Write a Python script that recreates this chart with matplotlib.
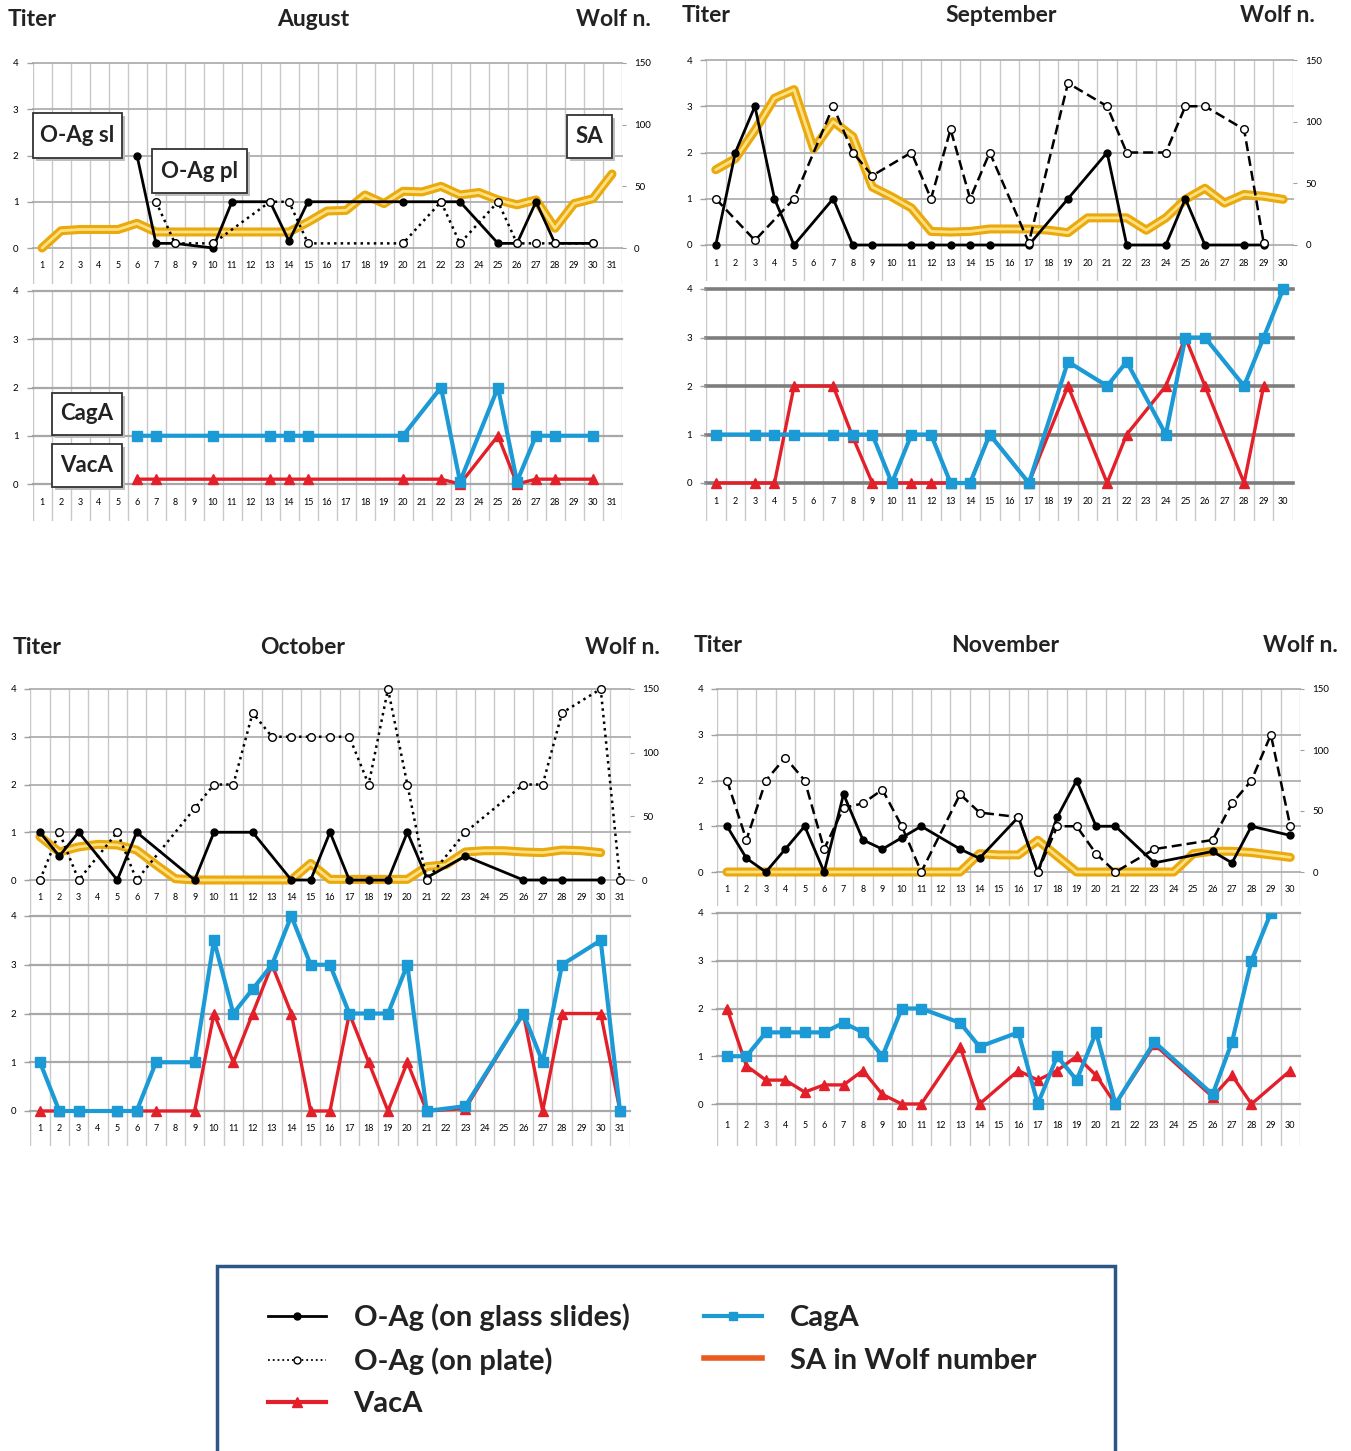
import numpy as np
import matplotlib.pyplot as plt
import matplotlib.patheffects as pe
from matplotlib.lines import Line2D
from matplotlib.patches import Rectangle

plt.rcParams['font.family'] = ['Lato', 'DejaVu Sans']

W, H = 1351, 1451
BLUE = '#1b9ad6'
RED = '#e3202a'

# ---- August ----
aug_sl_days = [6, 7, 8, 10, 11, 13, 14, 15, 20, 22, 23, 25, 26, 27, 28, 30]
aug_sl = [2, 0.1, 0.1, 0, 1, 1, 0.15, 1, 1, 1, 1, 0.1, 0.1, 1, 0.1, 0.1]
aug_pl_days = [7, 8, 10, 13, 14, 15, 20, 22, 23, 25, 26, 27, 28, 30]
aug_pl = [1, 0.1, 0.1, 1, 1, 0.1, 0.1, 1, 0.1, 1, 0.1, 0.1, 0.1, 0.1]
aug_sa = [0, 14, 15, 15, 15, 20, 13, 13, 13, 13, 13, 13, 13, 13, 21, 30,
          30.5, 43, 36, 46, 45.5, 50, 43, 45, 39, 35, 39, 16, 36, 40, 60]
aug_ab_days = [6, 7, 10, 13, 14, 15, 20, 22, 23, 25, 26, 27, 28, 30]
aug_cag = [1, 1, 1, 1, 1, 1, 1, 2, 0.05, 2, 0.05, 1, 1, 1]
aug_vac = [0.1, 0.1, 0.1, 0.1, 0.1, 0.1, 0.1, 0.1, 0, 1, 0, 0.1, 0.1, 0.1]

# ---- September ----
sep_sl_days = [1, 2, 3, 4, 5, 7, 8, 9, 11, 12, 13, 14, 15, 17, 19, 21, 22, 24, 25, 26, 28, 29]
sep_sl = [0, 2, 3, 1, 0, 1, 0, 0, 0, 0, 0, 0, 0, 0, 1, 2, 0, 0, 1, 0, 0, 0]
sep_pl_days = [1, 3, 5, 7, 8, 9, 11, 12, 13, 14, 15, 17, 19, 21, 22, 24, 25, 26, 28, 29]
sep_pl = [1, 0.1, 1, 3, 2, 1.5, 2, 1, 2.5, 1, 2, 0.05, 3.5, 3, 2, 2, 3, 3, 2.5, 0.05]
sep_sa = [61, 70, 93, 119, 126, 78, 100, 88, 47, 39, 30, 11, 10.5, 11, 13,
          13, 13, 12, 10, 22, 22, 22, 12, 22, 37, 46, 34, 41, 39.5, 37]
sep_cag_days = [1, 3, 4, 5, 7, 8, 9, 10, 11, 12, 13, 14, 15, 17, 19, 21, 22, 24, 25, 26, 28, 29, 30]
sep_cag = [1, 1, 1, 1, 1, 1, 1, 0, 1, 1, 0, 0, 1, 0, 2.5, 2, 2.5, 1, 3, 3, 2, 3, 4]
sep_vac_days = [1, 3, 4, 5, 7, 8, 9, 11, 12, 13, 14, 15, 17, 19, 21, 22, 24, 25, 26, 28, 29]
sep_vac = [0, 0, 0, 2, 2, 0.95, 0, 0, 0, 0, 0, 1, 0, 2, 0, 1, 2, 3, 2, 0, 2]

# ---- October ----
oct_sl_days = [1, 2, 3, 5, 6, 9, 10, 12, 14, 15, 16, 17, 18, 19, 20, 21, 23, 26, 27, 28, 30]
oct_sl = [1, 0.5, 1, 0, 1, 0, 1, 1, 0, 0, 1, 0, 0, 0, 1, 0.05, 0.5, 0, 0, 0, 0]
oct_pl_days = [1, 2, 3, 5, 6, 9, 10, 11, 12, 13, 14, 15, 16, 17, 18, 19, 20, 21, 23, 26, 27, 28, 30, 31]
oct_pl = [0, 1, 0, 1, 0, 1.5, 2, 2, 3.5, 3, 3, 3, 3, 3, 2, 4, 2, 0, 1, 2, 2, 3.5, 4, 0]
oct_sa = [34, 22, 26, 28, 27.5, 23.5, 12, 1, 0, 0, 0, 0, 0, 0, 13, 0.5,
          0.5, 0.5, 0.5, 0.5, 10.5, 12, 22, 23, 23, 22, 21.5, 23.5, 23, 21.5]
oct_ab_days = [1, 2, 3, 5, 6, 7, 9, 10, 11, 12, 13, 14, 15, 16, 17, 18, 19, 20, 21, 23, 26, 27, 28, 30, 31]
oct_cag = [1, 0, 0, 0, 0, 1, 1, 3.5, 2, 2.5, 3, 4, 3, 3, 2, 2, 2, 3, 0, 0.1, 2, 1, 3, 3.5, 0]
oct_vac = [0, 0, 0, 0, 0, 0, 0, 2, 1, 2, 3, 2, 0, 0, 2, 1, 0, 1, 0, 0.05, 2, 0, 2, 2, 0]

# ---- November ----
nov_sl_days = [1, 2, 3, 4, 5, 6, 7, 8, 9, 10, 11, 13, 14, 16, 17, 18, 19, 20, 21, 23, 26, 27, 28, 30]
nov_sl = [1, 0.3, 0, 0.5, 1, 0, 1.7, 0.7, 0.5, 0.75, 1, 0.5, 0.3, 1.2, 0, 1.2, 2, 1, 1, 0.2, 0.45, 0.2, 1, 0.8]
nov_pl_days = [1, 2, 3, 4, 5, 6, 7, 8, 9, 10, 11, 13, 14, 16, 17, 18, 19, 20, 21, 23, 26, 27, 28, 29, 30]
nov_pl = [2, 0.7, 2, 2.5, 2, 0.5, 1.4, 1.5, 1.8, 1, 0, 1.7, 1.3, 1.2, 0, 1, 1, 0.4, 0, 0.5, 0.7, 1.5, 2, 3, 1]
nov_sa = [0, 0, 0, 0, 0, 0, 0, 0, 0, 0, 0, 0, 0, 15, 14, 14, 26, 13, 0, 0,
          0, 0, 0, 0, 15, 17, 17, 16, 14, 12]
nov_cag_days = [1, 2, 3, 4, 5, 6, 7, 8, 9, 10, 11, 13, 14, 16, 17, 18, 19, 20, 21, 23, 26, 27, 28, 29]
nov_cag = [1, 1, 1.5, 1.5, 1.5, 1.5, 1.7, 1.5, 1, 2, 2, 1.7, 1.2, 1.5, 0, 1, 0.5, 1.5, 0, 1.3, 0.2, 1.3, 3, 4]
nov_vac_days = [1, 2, 3, 4, 5, 6, 7, 8, 9, 10, 11, 13, 14, 16, 17, 18, 19, 20, 21, 23, 26, 27, 28, 30]
nov_vac = [2, 0.8, 0.5, 0.5, 0.25, 0.4, 0.4, 0.7, 0.2, 0, 0, 1.2, 0, 0.7, 0.5, 0.7, 1, 0.6, 0, 1.25, 0.15, 0.6, 0, 0.7]

fig = plt.figure(figsize=(W / 100, H / 100), dpi=100)


def px_rect(x0, x1, y_top, y_bot):
    return [x0 / W, 1 - y_bot / H, (x1 - x0) / W, (y_bot - y_top) / H]


def base_panel(x0, x1, y_top, y_zero, y_bot, n_days, hcol='#a8a8a8', hlw=1.6):
    ax = fig.add_axes(px_rect(x0, x1, y_top, y_bot))
    ymin = -4 * (y_bot - y_zero) / (y_zero - y_top)
    ax.set_xlim(0.5, n_days + 0.5)
    ax.set_ylim(ymin, 4)
    for s in ax.spines.values():
        s.set_visible(False)
    ax.set_xticks([])
    ax.set_yticks(range(5))
    ax.tick_params(axis='y', length=4, width=1, color='#a0a0a0', labelsize=7, pad=6)
    for b in np.arange(0.5, n_days + 1):
        ax.axvline(b, color='#c8c8c8', lw=1.0, zorder=0)
    for v in range(5):
        ax.axhline(v, color=hcol, lw=hlw, zorder=0.5, clip_on=False)
    for d in range(1, n_days + 1):
        ax.text(d, ymin / 2, str(d), ha='center', va='center', fontsize=6.5)
    return ax


def top_panel(geom, n_days, sl_days, sl, pl_days, pl, pl_ls, sa):
    ax = base_panel(*geom, n_days, hcol='#b4b4b4', hlw=1.4)
    sa_ax = ax.twinx()
    sa_ax.set_ylim(ax.get_ylim()[0] * 150 / 4, 150)
    sa_ax.set_yticks([0, 50, 100, 150])
    sa_ax.tick_params(axis='y', length=3, color='#a0a0a0', labelsize=7, pad=6)
    for s in sa_ax.spines.values():
        s.set_visible(False)
    sa_ax.plot(np.arange(1, len(sa) + 1), sa, color='#eaa90c', lw=6,
               solid_joinstyle='round', solid_capstyle='round',
               path_effects=[pe.Stroke(linewidth=6.5, foreground='#eaa90c'),
                             pe.Stroke(linewidth=2, foreground='#ffe184')])
    fg = fig.add_axes(ax.get_position(), sharex=ax, sharey=ax)
    fg.axis('off')
    fg.plot(sl_days, sl, color='black', lw=2, marker='o', ms=5, clip_on=False)
    fg.plot(pl_days, pl, color='black', lw=1.8, ls=pl_ls, marker='o', mfc='white',
            mec='black', mew=1, ms=5.5, clip_on=False)
    return ax


def bottom_panel(geom, n_days, cag_days, cag, vac_days, vac, hcol='#a8a8a8', hlw=1.6, clip=False):
    ax = base_panel(*geom, n_days, hcol=hcol, hlw=hlw)
    ax.plot(vac_days, vac, color=RED, lw=2.4, marker='^', ms=7, clip_on=False)
    ax.plot(cag_days, cag, color=BLUE, lw=3, marker='s', ms=6.5, clip_on=clip)
    return ax


top_panel((32.5, 621.5, 63, 248, 284), 31, aug_sl_days, aug_sl, aug_pl_days, aug_pl, ':', aug_sa)
bottom_panel((32.5, 621.5, 291, 484, 521), 31, aug_ab_days, aug_cag, aug_ab_days, aug_vac)

top_panel((706, 1293, 60, 245, 281), 30, sep_sl_days, sep_sl, sep_pl_days, sep_pl, (0, (4, 2)), sep_sa)
bottom_panel((706, 1293, 289, 483, 521), 30, sep_cag_days, sep_cag, sep_vac_days, sep_vac,
             hcol='#7d7d7d', hlw=2.6)

top_panel((30.3, 629.7, 689, 880, 914), 31, oct_sl_days, oct_sl, oct_pl_days, oct_pl, ':', oct_sa)
bottom_panel((30.3, 629.7, 916, 1111, 1146), 31, oct_ab_days, oct_cag, oct_ab_days, oct_vac)

top_panel((717.3, 1300, 689, 872, 906), 30, nov_sl_days, nov_sl, nov_pl_days, nov_pl, (0, (4, 2)), nov_sa)
bottom_panel((717.3, 1300, 913, 1104, 1146), 30, nov_cag_days, nov_cag, nov_vac_days, nov_vac, clip=True)


def ftext(x, y, s, **kw):
    fig.text(x / W, 1 - y / H, s, ha='center', va='center', **kw)


head = dict(fontsize=16.5, fontweight='bold', color='#222222')
for (xs, y, month) in [((32, 313, 613), 20, 'August'), ((706, 1001, 1277), 16, 'September'),
                       ((37, 303, 622), 648, 'October'), ((718, 1005, 1300), 645, 'November')]:
    ftext(xs[0], y, 'Titer', **head)
    ftext(xs[1], y, month, **head)
    ftext(xs[2], y, 'Wolf n.', **head)

# labelled boxes on the August panels
for (x0, x1, y0, y1, s) in [(33, 122, 113, 158, 'O-Ag sl'), (152, 247, 149, 193, 'O-Ag pl'),
                            (567, 612, 115, 158, 'SA'), (52, 122, 393, 435, 'CagA'),
                            (52, 122, 444, 487, 'VacA')]:
    fig.patches.append(Rectangle((x0 / W + 0.002, 1 - y1 / H - 0.002), (x1 - x0) / W, (y1 - y0) / H,
                                 transform=fig.transFigure, facecolor='#bdbdbd',
                                 edgecolor='none', zorder=5))
    fig.patches.append(Rectangle((x0 / W, 1 - y1 / H), (x1 - x0) / W, (y1 - y0) / H,
                                 transform=fig.transFigure, facecolor='white',
                                 edgecolor='#333333', lw=1.3, zorder=6))
    fig.text((x0 + x1) / 2 / W, 1 - (y0 + y1) / 2 / H, s, ha='center', va='center',
             fontsize=16, fontweight='bold', color='#222222', zorder=7)

# legend frame
fig.patches.append(Rectangle((217 / W, 1 - 1470 / H), (1115 - 217) / W, (1470 - 1266) / H,
                             transform=fig.transFigure, facecolor='white',
                             edgecolor='#2b5685', lw=2.5, zorder=1))

handles = [
    Line2D([], [], color='black', lw=2, marker='o', ms=5),
    Line2D([], [], color='black', lw=1.3, ls=':', marker='o', mfc='white', ms=5),
    Line2D([], [], color=RED, lw=3, marker='^', ms=7),
    Line2D([], [], color=BLUE, lw=3, marker='s', ms=6),
    Line2D([], [], color='#ea5a1e', lw=4),
]
labels = ['O-Ag (on glass slides)', 'O-Ag (on plate)', 'VacA', 'CagA', 'SA in Wolf number']
leg = fig.legend(handles, labels, ncol=2, loc='upper left',
                 bbox_to_anchor=(253 / W, 1 - 1289 / H), frameon=False, borderpad=0,
                 handlelength=2.0, handletextpad=0.95, columnspacing=2.55, labelspacing=0.56,
                 prop={'family': 'Lato', 'weight': 'bold', 'size': 21})
leg.set_zorder(3)
for t in leg.get_texts():
    t.set_color('#222222')

fig.savefig('out.png', dpi=100)
